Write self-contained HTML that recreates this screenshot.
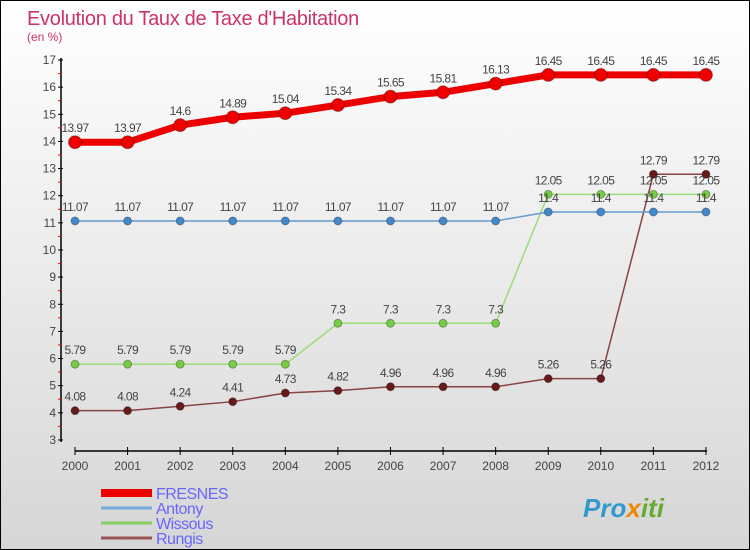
<!DOCTYPE html>
<html><head><meta charset="utf-8"><style>
body{margin:0}
#c{position:relative;width:748px;height:548px;border:1px solid #000;background:linear-gradient(#ffffff,#d6d6d6);font-family:"Liberation Sans",sans-serif;overflow:hidden}
</style></head><body>
<div id="c">
<svg id="s" width="748" height="548" xmlns="http://www.w3.org/2000/svg"></svg>
</div>
<script>
const years=[2000,2001,2002,2003,2004,2005,2006,2007,2008,2009,2010,2011,2012];
const fresnes=[13.97,13.97,14.6,14.89,15.04,15.34,15.65,15.81,16.13,16.45,16.45,16.45,16.45];
const antony=[11.07,11.07,11.07,11.07,11.07,11.07,11.07,11.07,11.07,11.4,11.4,11.4,11.4];
const wissous=[5.79,5.79,5.79,5.79,5.79,7.3,7.3,7.3,7.3,12.05,12.05,12.05,12.05];
const rungis=[4.08,4.08,4.24,4.41,4.73,4.82,4.96,4.96,4.96,5.26,5.26,12.79,12.79];
const yTicks=[3,4,5,6,7,8,9,10,11,12,13,14,15,16,17];
const names=["FRESNES","Antony","Wissous","Rungis"];
const S=document.getElementById('s');const NS="http://www.w3.org/2000/svg";
function X(i){return 74+i*52.58;}
function Y(v){return 59+(17-v)*27.14;}
function el(t,a,p){const e=document.createElementNS(NS,t);for(const k in a)e.setAttribute(k,a[k]);(p||S).appendChild(e);return e;}
let t=el('text',{x:26,y:24,'font-size':20,fill:'#cc3366','letter-spacing':'-0.3'});t.textContent="Evolution du Taux de Taxe d'Habitation";

t=el('text',{x:26,y:40,'font-size':12,fill:'#cc3366'});t.textContent="(en %)";

let a=el('line',{x1:60,y1:57,x2:60,y2:441,stroke:'#000','stroke-width':1.5});

yTicks.forEach(v=>{el('line',{x1:57,x2:62,y1:Y(v),y2:Y(v),stroke:'#000'});
 if(v<17)el('line',{x1:57,x2:60,y1:Y(v+0.5),y2:Y(v+0.5),stroke:'#f00'});
 const tt=el('text',{x:55,y:Y(v)+4,'font-size':12,fill:'#444','text-anchor':'end'});tt.textContent=v;
 });
a=el('line',{x1:74,y1:450,x2:706,y2:450,stroke:'#000','stroke-width':1.5});

years.forEach((y,i)=>{el('line',{x1:X(i),x2:X(i),y1:446,y2:454,stroke:'#000'});
 const tt=el('text',{x:X(i),y:469,'font-size':12,fill:'#444','text-anchor':'middle'});tt.textContent=y;
 });
function series(d,col,dot,w,r,nm){
 const p=el('polyline',{points:d.map((v,i)=>X(i)+','+Y(v)).join(' '),fill:'none',stroke:col,'stroke-width':w});
 
 d.forEach((v,i)=>{const c=el('circle',{cx:X(i),cy:Y(v),r:r,fill:dot,stroke:'rgba(0,0,0,0.3)'});
  
  const tt=el('text',{x:X(i),y:Y(v)-10,'font-size':12,fill:'#444','text-anchor':'middle','letter-spacing':'-0.6'});tt.textContent=v;
  });
}
series(rungis,'#884444','#661a1a',1.5,4,'rungis');
series(wissous,'#99dd77','#77cc44',1.5,4,'wissous');
series(antony,'#6699cc','#4488cc',1.5,4,'antony');
series(fresnes,'#ee0000','#ee0000',7,6.5,'fresnes');
const lc=['#ee0000','#77aadd','#88cc66','#995555'],lw=[8,3,3,3];
names.forEach((n,i)=>{const y=492+i*15;
 const l=el('line',{x1:100,x2:151,y1:y,y2:y,stroke:lc[i],'stroke-width':lw[i]});
 
 const tt=el('text',{x:155,y:y+6,'font-size':16,fill:'#6666ff','letter-spacing':'-0.5'});tt.textContent=n;
 });
const lg=el('text',{x:582,y:516,'font-size':26,'font-weight':'bold',fill:'#3399cc','font-style':'italic'});

[['Pro','#3399cc'],['x','#ee8800'],['iti','#66aa33']].forEach(([s,c])=>{const ts=el('tspan',{fill:c},lg);ts.textContent=s;});
</script>
</body></html>
